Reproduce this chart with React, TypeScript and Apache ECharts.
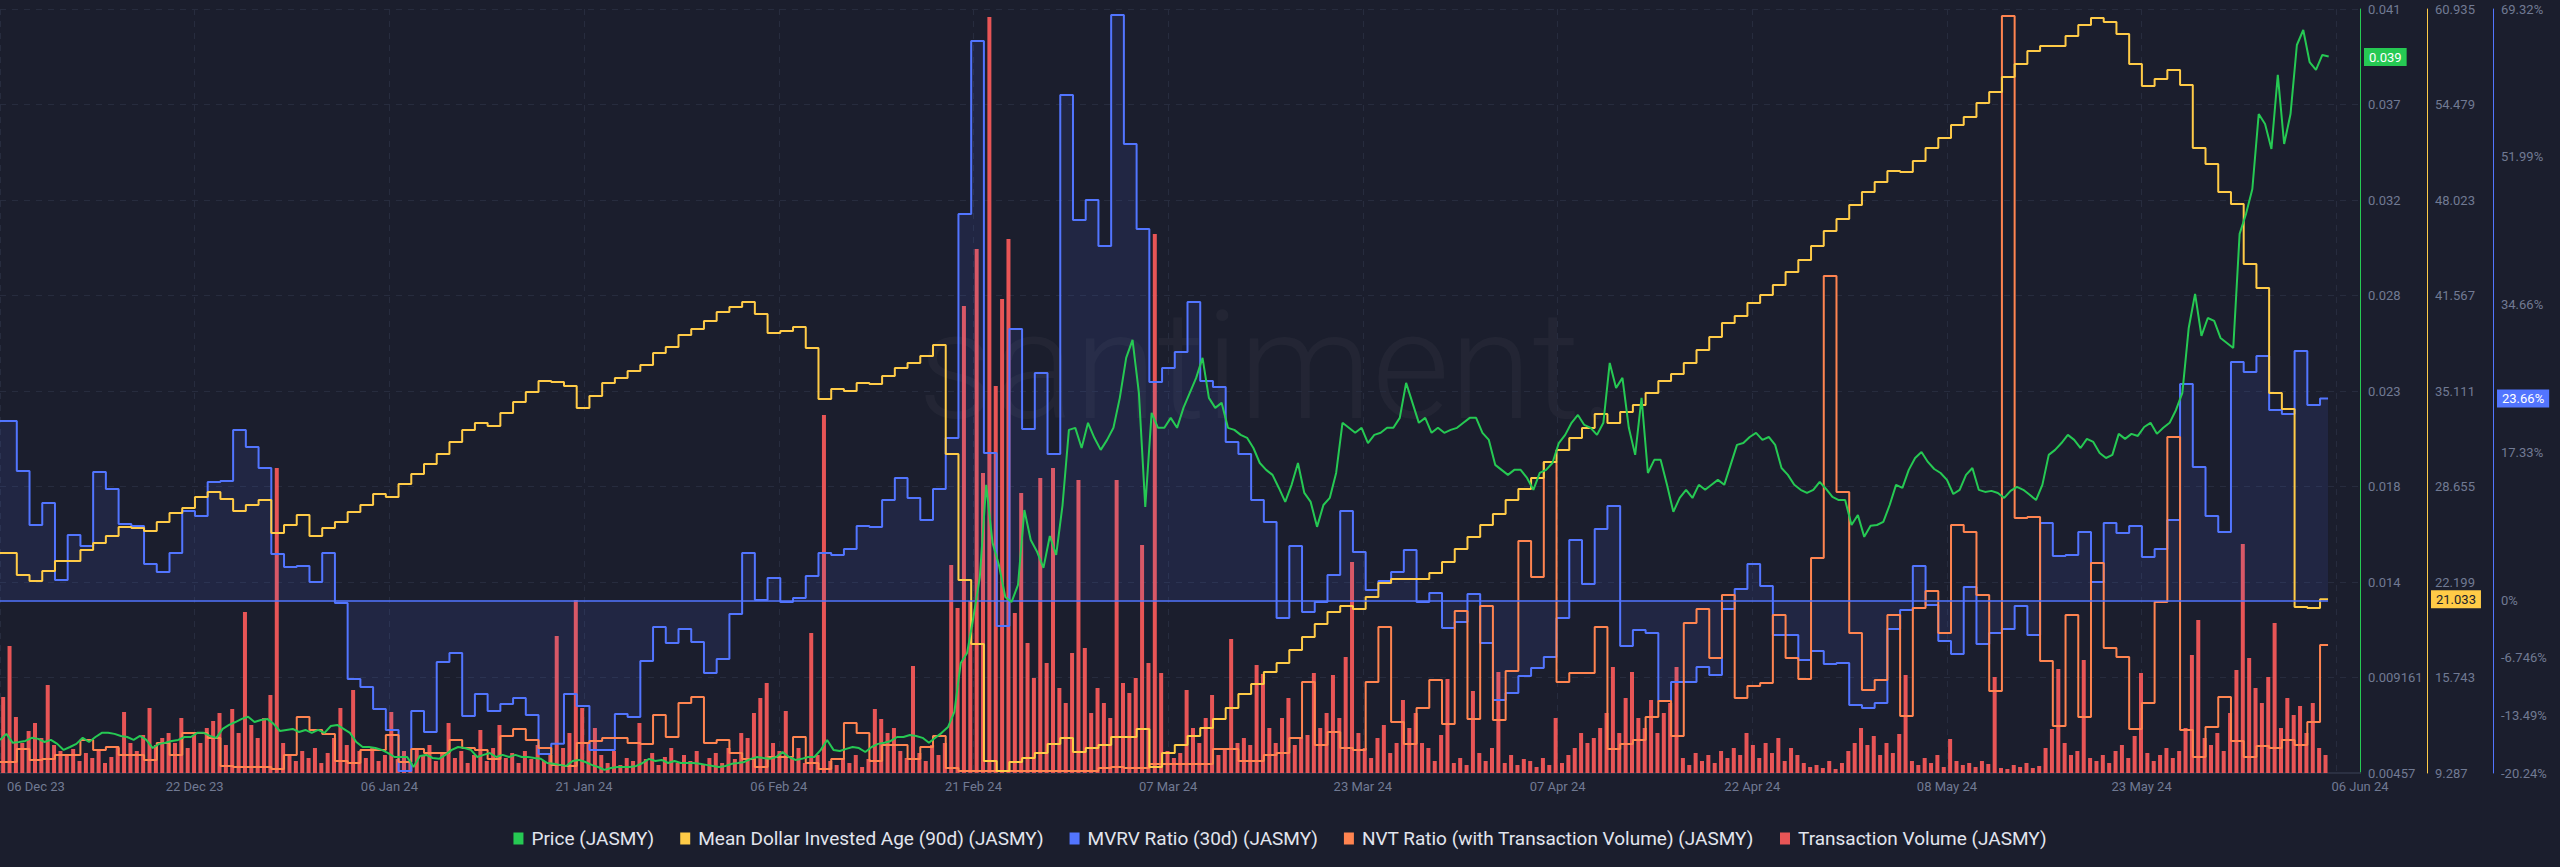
import React, { useEffect, useRef } from 'react';
import * as echarts from 'echarts';

// ---------- axis ticks / labels ----------
const xTickLabels = ['06 Dec 23', '22 Dec 23', '06 Jan 24', '21 Jan 24', '06 Feb 24', '21 Feb 24', '07 Mar 24', '23 Mar 24', '07 Apr 24', '22 Apr 24', '08 May 24', '23 May 24'];
const xEndLabel = '06 Jun 24';
const xTickInterval = 15.3; // days between date labels
const xAxisMax = 185.46; // days shown (x = days since 7 Dec 2023)
const dailyOffset = -0.68; // daily readings are stamped 0.68 day before each date index
const dataEndDay = 182.95; // time of the last reading

const priceTickStep = 0.00459;
const priceTickLabels = ['0.00457', '0.009161', '0.014', '0.018', '0.023', '0.028', '0.032', '0.037', '0.041'];
const mdiaTicks = [9.287, 15.743, 22.199, 28.655, 35.111, 41.567, 48.023, 54.479, 60.935];
const mdiaTickLabels = ['9.287', '15.743', '22.199', '28.655', '35.111', '41.567', '48.023', '54.479', '60.935'];
const mvrvTicks = [-20.24, -13.49, -6.746, 0, 17.33, 34.66, 51.99, 69.32];
const mvrvTickLabels = ['-20.24%', '-13.49%', '-6.746%', '0%', '17.33%', '34.66%', '51.99%', '69.32%'];

const seriesNames = ['Price (JASMY)', 'Mean Dollar Invested Age (90d) (JASMY)', 'MVRV Ratio (30d) (JASMY)', 'NVT Ratio (with Transaction Volume) (JASMY)', 'Transaction Volume (JASMY)'];
const lastPrice = 0.039;
const lastMdia = 21.033;
const lastMvrv = 23.66;
const lastLabels = ['0.039', '21.033', '23.66%'];

// ---------- data ----------
// price, every 12 hours
const price = [
  0.00618, 0.00647, 0.00604, 0.00608, 0.00613, 0.00628, 0.00623, 0.00608, 0.00618, 0.00599,
  0.00570, 0.00584, 0.00599, 0.00628, 0.00608, 0.00632, 0.00652, 0.00652, 0.00647, 0.00637,
  0.00632, 0.00618, 0.00637, 0.00618, 0.00579, 0.00599, 0.00604, 0.00613, 0.00618, 0.00632,
  0.00632, 0.00652, 0.00652, 0.00637, 0.00628, 0.00671, 0.00690, 0.00704, 0.00719, 0.00729,
  0.00704, 0.00714, 0.00719, 0.00695, 0.00661, 0.00666, 0.00671, 0.00656, 0.00666, 0.00652,
  0.00666, 0.00652, 0.00685, 0.00690, 0.00671, 0.00652, 0.00608, 0.00584, 0.00584, 0.00579,
  0.00570, 0.00555, 0.00536, 0.00536, 0.00536, 0.00488, 0.00541, 0.00546, 0.00531, 0.00527,
  0.00546, 0.00570, 0.00584, 0.00579, 0.00570, 0.00536, 0.00546, 0.00555, 0.00536, 0.00546,
  0.00536, 0.00546, 0.00536, 0.00536, 0.00531, 0.00527, 0.00507, 0.00503, 0.00498, 0.00493,
  0.00517, 0.00522, 0.00512, 0.00498, 0.00488, 0.00474, 0.00483, 0.00488, 0.00488, 0.00488,
  0.00493, 0.00507, 0.00527, 0.00517, 0.00522, 0.00507, 0.00517, 0.00507, 0.00507, 0.00507,
  0.00503, 0.00498, 0.00493, 0.00488, 0.00493, 0.00503, 0.00507, 0.00512, 0.00527, 0.00536,
  0.00531, 0.00527, 0.00536, 0.00560, 0.00536, 0.00522, 0.00527, 0.00536, 0.00536, 0.00570,
  0.00618, 0.00570, 0.00565, 0.00575, 0.00584, 0.00579, 0.00560, 0.00584, 0.00599, 0.00604,
  0.00613, 0.00632, 0.00632, 0.00642, 0.00637, 0.00628, 0.00604, 0.00628, 0.00652, 0.00680,
  0.00753, 0.00988, 0.01036, 0.01209, 0.01401, 0.01844, 0.01565, 0.01459, 0.01305, 0.01281,
  0.01363, 0.01723, 0.01579, 0.01522, 0.01445, 0.01598, 0.01507, 0.01747, 0.02108, 0.02118,
  0.02021, 0.02142, 0.02070, 0.02012, 0.02060, 0.02118, 0.02262, 0.02454, 0.02541, 0.02286,
  0.01738, 0.02190, 0.02118, 0.02118, 0.02166, 0.02118, 0.02214, 0.02286, 0.02358, 0.02454,
  0.02262, 0.02214, 0.02238, 0.02118, 0.02108, 0.02084, 0.02070, 0.02021, 0.01949, 0.01916,
  0.01892, 0.01829, 0.01762, 0.01844, 0.01949, 0.01805, 0.01762, 0.01642, 0.01747, 0.01781,
  0.01901, 0.02142, 0.02118, 0.02094, 0.02118, 0.02045, 0.02084, 0.02094, 0.02118, 0.02118,
  0.02166, 0.02334, 0.02238, 0.02142, 0.02166, 0.02094, 0.02118, 0.02094, 0.02108, 0.02118,
  0.02142, 0.02166, 0.02166, 0.02094, 0.02060, 0.01940, 0.01916, 0.01892, 0.01916, 0.01916,
  0.01877, 0.01820, 0.01901, 0.01916, 0.01949, 0.02045, 0.02084, 0.02142, 0.02180, 0.02132,
  0.02118, 0.02084, 0.02142, 0.02430, 0.02310, 0.02358, 0.02118, 0.01988, 0.02262, 0.01901,
  0.01964, 0.01964, 0.01844, 0.01714, 0.01781, 0.01820, 0.01781, 0.01844, 0.01820, 0.01844,
  0.01868, 0.01844, 0.01940, 0.02036, 0.02045, 0.02074, 0.02094, 0.02060, 0.02074, 0.02036,
  0.01925, 0.01892, 0.01844, 0.01820, 0.01805, 0.01820, 0.01858, 0.01824, 0.01786, 0.01771,
  0.01771, 0.01651, 0.01699, 0.01594, 0.01647, 0.01651, 0.01666, 0.01747, 0.01844, 0.01829,
  0.01916, 0.01973, 0.02002, 0.01954, 0.01920, 0.01901, 0.01868, 0.01800, 0.01820, 0.01892,
  0.01925, 0.01820, 0.01810, 0.01815, 0.01805, 0.01781, 0.01815, 0.01834, 0.01820, 0.01796,
  0.01771, 0.01844, 0.01988, 0.02012, 0.02045, 0.02084, 0.02060, 0.02021, 0.02065, 0.02050,
  0.01997, 0.01973, 0.01988, 0.02089, 0.02065, 0.02089, 0.02079, 0.02122, 0.02142, 0.02089,
  0.02118, 0.02142, 0.02204, 0.02286, 0.02598, 0.02762, 0.02560, 0.02646, 0.02632, 0.02550,
  0.02526, 0.02502, 0.03050, 0.03146, 0.03266, 0.03626, 0.03578, 0.03458, 0.03814, 0.03482,
  0.03626, 0.03958, 0.04030, 0.03876, 0.03838, 0.03910, 0.03903,
];

// Mean Dollar Invested Age (90d), daily
const mdia = [
  24.16, 24.16, 22.67, 22.27, 22.94, 23.62, 23.62, 24.36, 24.84, 25.31,
  25.92, 25.85, 25.65, 26.26, 26.86, 27.20, 27.95, 28.28, 27.81, 27.00,
  27.41, 27.74, 25.51, 26.05, 26.73, 25.31, 25.85, 26.26, 26.93, 27.41,
  28.15, 27.95, 28.82, 29.50, 30.18, 30.85, 31.67, 32.48, 32.95, 32.75,
  33.63, 34.37, 35.05, 35.79, 35.72, 35.45, 33.96, 34.77, 35.65, 35.99,
  36.46, 36.87, 37.68, 38.09, 38.90, 39.30, 39.84, 40.45, 40.79, 41.13,
  40.32, 39.03, 39.17, 39.44, 38.02, 34.57, 35.25, 35.11, 35.65, 35.58,
  36.13, 36.67, 37.00, 37.48, 38.22, 30.85, 22.34, 18.01, 10.10, 9.42,
  10.03, 10.30, 10.64, 11.25, 11.65, 10.71, 10.98, 11.18, 11.72, 11.72,
  12.26, 9.69, 10.64, 11.18, 11.79, 12.33, 12.94, 13.68, 14.63, 15.30,
  16.12, 16.72, 17.60, 18.48, 19.36, 20.17, 20.58, 20.37, 21.19, 22.13,
  22.40, 22.40, 22.40, 22.81, 23.55, 24.43, 25.24, 26.05, 26.80, 27.74,
  28.49, 29.23, 30.31, 31.12, 31.93, 32.61, 33.56, 32.95, 33.69, 34.17,
  34.98, 35.79, 36.26, 37.00, 37.88, 38.76, 39.71, 40.18, 41.06, 41.60,
  42.28, 43.16, 43.97, 44.91, 45.93, 46.74, 47.69, 48.57, 49.24, 49.98,
  49.91, 50.66, 51.54, 52.22, 53.10, 53.64, 54.58, 55.32, 56.34, 57.22,
  58.10, 58.43, 58.43, 59.11, 59.85, 60.33, 60.06, 59.25, 57.22, 55.73,
  56.20, 56.81, 55.80, 51.54, 50.46, 48.57, 47.75, 43.70, 42.08, 34.98,
  33.90, 20.51, 20.44, 21.033,
];

// MVRV Ratio (30d), %, daily
const mvrv = [
  21.02, 21.02, 15.16, 8.83, 11.41, 2.38, 7.66, 6.37, 15.04, 13.05,
  8.95, 8.71, 4.26, 3.32, 5.55, 10.47, 9.88, 13.87, 13.99, 19.97,
  17.97, 15.51, 5.43, 3.91, 4.03, 2.15, 5.55, -0.32, -9.22, -10.16,
  -12.74, -15.2, -20.01, -12.98, -15.44, -7.23, -6.18, -13.56, -10.98, -12.98,
  -12.15, -11.45, -13.44, -18.02, -16.8, -10.98, -12.39, -17.55, -17.55, -13.33,
  -13.68, -7.11, -3.13, -5.0, -3.36, -4.89, -8.52, -6.88, -1.6, 5.55,
  0.04, 2.62, -0.2, 0.27, 2.85, 5.55, 5.31, 6.02, 8.71, 8.59,
  11.76, 14.34, 11.99, 9.42, 13.05, 19.03, 45.29, 65.57, 17.27, -3.01,
  31.81, 20.08, 26.65, 17.15, 59.24, 44.58, 46.93, 41.54, 68.62, 53.49,
  43.53, 25.59, 27.23, 29.11, 34.97, 25.71, 25.01, 18.56, 17.15, 11.76,
  9.18, -2.07, 6.37, -1.37, -0.2, 2.97, 10.47, 5.66, 1.21, 2.26,
  3.32, 5.9, -0.2, 0.86, -3.24, -2.54, 0.74, -5.0, -11.69, -10.87,
  -8.87, -7.93, -6.65, -2.07, 7.07, 1.91, 8.36, 11.06, -5.35, -3.48,
  -3.83, -11.8, -9.58, -9.58, -7.82, -8.75, -1.02, 1.33, 4.26, 1.68,
  -4.07, -4.07, -7.0, -5.94, -7.46, -7.34, -12.27, -12.62, -12.04, -3.36,
  -1.13, 4.02, -0.55, -4.77, -6.29, 1.56, -5.12, -3.83, -3.36, -0.67,
  -4.07, 9.06, 5.19, 5.31, 8.01, 2.15, 9.06, 7.89, 8.71, 5.08,
  6.02, 9.42, 25.36, 15.63, 9.88, 8.01, 27.94, 26.77, 28.64, 22.31,
  21.84, 29.23, 22.9, 23.66,
];

// NVT Ratio (with Transaction Volume), daily
const nvt = [
  11, 11, 24, 13, 14, 18, 18, 33, 23, 26,
  18, 18, 13, 30, 18, 40, 40, 35, 7, 6,
  6, 6, 4, 18, 56, 43, 39, 12, 10, 23,
  23, 38, 11, 24, 20, 20, 33, 25, 23, 14,
  37, 44, 33, 25, 8, 7, 30, 32, 35, 35,
  30, 29, 58, 36, 70, 76, 30, 33, 20, 14,
  6, 16, 16, 36, 10, 4, 14, 50, 40, 12,
  28, 28, 14, 26, 37, 5, 2, 2, 2, 2,
  2, 2, 2, 2, 2, 2, 2, 5, 6, 5,
  5, 9, 9, 9, 9, 9, 24, 24, 12, 12,
  18, 20, 35, 91, 28, 41, 25, 23, 91, 146,
  51, 29, 65, 93, 49, 162, 54, 167, 53, 102,
  232, 196, 311, 91, 100, 100, 146, 24, 29, 33,
  56, 72, 37, 150, 164, 115, 178, 75, 87, 90,
  158, 115, 94, 215, 497, 281, 140, 83, 93, 158,
  57, 165, 182, 140, 248, 241, 178, 82, 757, 255,
  256, 112, 47, 158, 56, 210, 125, 116, 44, 70,
  171, 336, 43, 16, 46, 76, 32, 16, 27, 25,
  33, 28, 51, 128,
];

// Transaction Volume, every 12 hours
const txVolume = [
  76, 127, 56, 30, 42, 50, 35, 88, 28, 22,
  18, 24, 12, 20, 15, 22, 10, 16, 25, 61,
  30, 22, 38, 65, 28, 35, 40, 30, 55, 25,
  38, 30, 45, 52, 60, 28, 64, 40, 161, 48,
  35, 55, 78, 305, 30, 18, 12, 22, 15, 25,
  10, 20, 35, 65, 28, 83, 22, 15, 25, 12,
  18, 61, 14, 22, 10, 25, 18, 28, 12, 20,
  50, 15, 22, 10, 18, 43, 12, 25, 48, 15,
  20, 10, 22, 14, 28, 12, 18, 137, 25, 40,
  173, 65, 30, 45, 18, 10, 22, 8, 15, 12,
  50, 14, 20, 8, 16, 25, 10, 18, 12, 22,
  8, 15, 20, 10, 25, 14, 40, 35, 60, 75,
  90, 30, 22, 62, 15, 25, 10, 140, 18, 358,
  12, 8, 15, 10, 18, 6, 14, 64, 54, 40,
  45, 22, 15, 107, 20, 12, 28, 18, 30, 208,
  165, 467, 172, 524, 300, 756, 387, 474, 534, 160,
  280, 130, 95, 295, 110, 305, 85, 70, 120, 293,
  125, 60, 85, 70, 55, 293, 90, 80, 95, 228,
  110, 539, 100, 22, 15, 20, 83, 45, 30, 55,
  78, 18, 25, 134, 30, 35, 28, 108, 99, 45,
  30, 55, 75, 28, 35, 38, 100, 45, 60, 98,
  55, 116, 211, 40, 25, 15, 35, 48, 20, 30,
  73, 45, 60, 30, 25, 12, 38, 94, 10, 15,
  8, 82, 20, 12, 25, 101, 10, 18, 8, 14,
  12, 6, 15, 8, 55, 10, 18, 25, 40, 30,
  35, 45, 60, 106, 40, 75, 101, 55, 45, 73,
  40, 60, 70, 106, 15, 8, 20, 12, 18, 10,
  22, 15, 25, 18, 40, 28, 15, 30, 20, 35,
  12, 25, 18, 10, 6, 8, 5, 12, 4, 10,
  22, 30, 45, 28, 37, 18, 30, 20, 39, 98,
  12, 8, 15, 10, 18, 6, 34, 12, 8, 10,
  6, 12, 9, 96, 5, 4, 8, 6, 10, 5,
  7, 25, 44, 104, 30, 18, 22, 113, 15, 12,
  18, 10, 22, 28, 15, 37, 100, 20, 12, 18,
  25, 15, 22, 45, 118, 153, 35, 28, 40, 22,
  60, 103, 229, 115, 85, 70, 96, 150, 45, 75,
  58, 67, 40, 70, 25, 18,
];

// ---------- styling ----------
const BG = '#1b1e2d';
const GRID = '#272c3e';
const LABEL = '#717a93';
const FONT = 'Roboto, sans-serif';
const C_PRICE = '#26c953';
const C_MDIA = '#ffcb47';
const C_MVRV = '#5275ff';
const C_NVT = '#ff8450';
const C_TV = '#ff5b5b';
const GRID_RIGHT = 200;
const AXIS_OFFSETS = [0, 67, 133];

const nearestLabel = (ticks: number[], labels: string[]) => (v: number) => {
  let best = 0;
  for (let i = 1; i < ticks.length; i++) if (Math.abs(ticks[i] - v) < Math.abs(ticks[best] - v)) best = i;
  return labels[best];
};

const dailySeries = (arr: number[]) => [
  ...arr.map((v, i) => [i + dailyOffset, v]),
  [dataEndDay, arr[arr.length - 1]],
];

const hiddenAxis = (max: number) => ({
  type: 'value',
  show: false,
  position: 'right',
  min: 0,
  max,
  axisLine: { show: false, onZero: false },
  axisLabel: { show: false },
  axisTick: { show: false },
  splitLine: { show: false },
});

export default function App() {
  const ref = useRef<HTMLDivElement>(null);

  useEffect(() => {
    document.body.style.margin = '0';
    document.body.style.background = BG;
    const chart = echarts.init(ref.current!, undefined, { renderer: 'svg' });

    const option: any = {
      animation: false,
      backgroundColor: BG,
      textStyle: { fontFamily: FONT },
      grid: { left: 0, right: GRID_RIGHT, top: 9, bottom: 94 },
      graphic: {
        elements: [
          {
            id: 'watermark',
            type: 'text',
            left: 918,
            top: 292,
            silent: true,
            z: 0,
            style: {
              text: 'santiment.',
              fontSize: 150,
              fontFamily: FONT,
              fontWeight: 300,
              fill: 'rgba(255,255,255,0.035)',
            },
          },
        ],
      },
      legend: {
        top: 824,
        left: 'center',
        icon: 'rect',
        itemWidth: 10,
        itemHeight: 12,
        itemGap: 26,
        selectedMode: false,
        data: seriesNames,
        textStyle: { color: '#e2e5ee', fontSize: 19, fontFamily: FONT, padding: [0, 0, 0, 3] },
      },
      xAxis: {
        type: 'value',
        min: 0,
        max: xAxisMax,
        interval: xTickInterval,
        axisLine: { show: true, onZero: false, lineStyle: { color: '#2b3042', width: 2 } },
        axisTick: { show: false },
        splitLine: { show: true, lineStyle: { color: GRID, type: [6, 6] } },
        axisLabel: {
          color: LABEL,
          fontSize: 13,
          fontFamily: FONT,
          margin: 7,
          showMinLabel: true,
          showMaxLabel: true,
          alignMinLabel: 'left',
          rich: { first: { color: LABEL, fontSize: 13, fontFamily: FONT, padding: [0, 0, 0, 7] } },
          formatter: (v: number) => {
            const k = Math.round(v / xTickInterval);
            if (Math.abs(v - k * xTickInterval) > 0.01) return xEndLabel;
            if (k === 0) return '{first|' + xTickLabels[0] + '}';
            return k < xTickLabels.length ? xTickLabels[k] : '';
          },
        },
      },
      yAxis: [
        {
          type: 'value',
          position: 'right',
          offset: AXIS_OFFSETS[0],
          min: priceTickStep,
          max: priceTickStep * 9,
          interval: priceTickStep,
          axisLine: { show: true, onZero: false, lineStyle: { color: C_PRICE } },
          axisTick: { show: false },
          splitLine: { show: true, lineStyle: { color: GRID, type: [6, 6] } },
          axisLabel: {
            color: LABEL,
            fontSize: 13,
            fontFamily: FONT,
            margin: 8,
            formatter: (v: number) => priceTickLabels[Math.round(v / priceTickStep) - 1] ?? '',
          },
        },
        {
          type: 'value',
          position: 'right',
          offset: AXIS_OFFSETS[1],
          min: mdiaTicks[0],
          max: mdiaTicks[mdiaTicks.length - 1],
          axisLine: { show: true, onZero: false, lineStyle: { color: C_MDIA } },
          axisTick: { show: false, customValues: mdiaTicks },
          splitLine: { show: false },
          axisLabel: {
            color: LABEL,
            fontSize: 13,
            fontFamily: FONT,
            margin: 8,
            customValues: mdiaTicks,
            formatter: nearestLabel(mdiaTicks, mdiaTickLabels),
          },
        },
        {
          type: 'value',
          position: 'right',
          offset: AXIS_OFFSETS[2],
          min: mvrvTicks[0],
          max: mvrvTicks[mvrvTicks.length - 1],
          axisLine: { show: true, onZero: false, lineStyle: { color: C_MVRV } },
          axisTick: { show: false, customValues: mvrvTicks },
          splitLine: { show: false },
          axisLabel: {
            color: LABEL,
            fontSize: 13,
            fontFamily: FONT,
            margin: 8,
            customValues: mvrvTicks,
            formatter: nearestLabel(mvrvTicks, mvrvTickLabels),
          },
        },
        hiddenAxis(764),
        hiddenAxis(764),
      ],
      series: [
        {
          name: seriesNames[4],
          type: 'bar',
          yAxisIndex: 4,
          z: 1,
          barWidth: 4,
          color: C_TV,
          itemStyle: { color: C_TV, opacity: 0.9 },
          data: txVolume.map((v, j) => [j * 0.5 + 0.25, v]),
        },
        {
          name: seriesNames[2],
          type: 'line',
          yAxisIndex: 2,
          z: 2,
          step: 'end',
          symbol: 'none',
          color: C_MVRV,
          lineStyle: { color: C_MVRV, width: 2 },
          areaStyle: { color: 'rgba(82,117,255,0.15)' },
          data: dailySeries(mvrv),
          markLine: {
            silent: true,
            symbol: ['none', 'none'],
            label: { show: false },
            lineStyle: { color: C_MVRV, width: 1.5, type: 'solid' },
            data: [[{ coord: [0, 0] }, { coord: [dataEndDay, 0] }]],
          },
        },
        {
          name: seriesNames[3],
          type: 'line',
          yAxisIndex: 3,
          z: 3,
          step: 'end',
          symbol: 'none',
          color: C_NVT,
          lineStyle: { color: C_NVT, width: 2 },
          data: dailySeries(nvt),
        },
        {
          name: seriesNames[1],
          type: 'line',
          yAxisIndex: 1,
          z: 4,
          step: 'end',
          symbol: 'none',
          color: C_MDIA,
          lineStyle: { color: C_MDIA, width: 2 },
          data: dailySeries(mdia),
        },
        {
          name: seriesNames[0],
          type: 'line',
          yAxisIndex: 0,
          z: 5,
          symbol: 'none',
          color: C_PRICE,
          lineStyle: { color: C_PRICE, width: 2 },
          data: price.map((v, k) => [k * 0.5, v]),
        },
      ],
    };

    chart.setOption(option);

    // last-value badges on each visible value axis, placed through the axes' own scales
    const gridRightX = chart.getWidth() - GRID_RIGHT;
    const lastValues = [lastPrice, lastMdia, lastMvrv];
    const badgeBg = [C_PRICE, C_MDIA, C_MVRV];
    const badgeFg = ['#ffffff', BG, '#ffffff'];
    const badges = lastValues.map((val, i) => ({
      id: 'badge' + i,
      type: 'text',
      silent: true,
      z: 10,
      x: gridRightX + AXIS_OFFSETS[i] + 4,
      y: chart.convertToPixel({ yAxisIndex: i } as any, val) as number,
      style: {
        text: lastLabels[i],
        fill: badgeFg[i],
        backgroundColor: badgeBg[i],
        padding: [3, 5, 2, 5],
        fontSize: 13,
        fontFamily: FONT,
        align: 'left',
        verticalAlign: 'middle',
      },
    }));
    chart.setOption({ graphic: { elements: badges } });

    return () => chart.dispose();
  }, []);

  return <div ref={ref} style={{ position: 'absolute', left: 0, top: 0, width: 2560, height: 867 }} />;
}
